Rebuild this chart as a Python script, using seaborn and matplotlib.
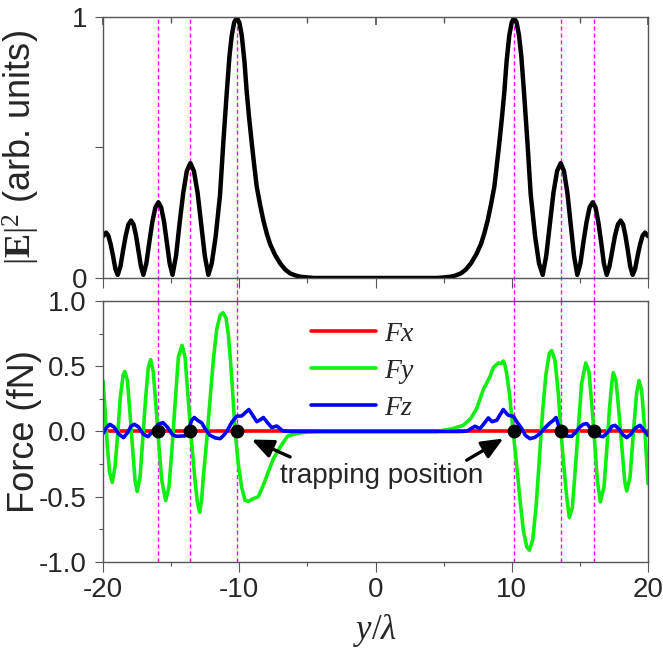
import numpy as np
import matplotlib
matplotlib.use('Agg')
import matplotlib.pyplot as plt
import seaborn as sns

sns.set_theme(style='ticks')
plt.rcParams['font.family'] = ['Liberation Sans', 'DejaVu Sans']
plt.rcParams['mathtext.fontset'] = 'custom'
plt.rcParams['mathtext.rm'] = 'Liberation Serif'
plt.rcParams['mathtext.it'] = 'Liberation Serif:italic'
plt.rcParams['mathtext.bf'] = 'Liberation Serif:bold'

# |E|^2 profile
e_x = [-20.0, -19.78, -19.61, -19.44, -19.26, -19.09, -18.92, -18.72, -18.53, -18.33, -18.14,
       -17.94, -17.76, -17.58, -17.4, -17.22, -17.04, -16.82, -16.6, -16.38, -16.16, -15.94,
       -15.73, -15.52, -15.32, -15.11, -14.9, -14.64, -14.38, -14.11, -13.85, -13.59, -13.33,
       -13.06, -12.8, -12.53, -12.27, -12.02, -11.73, -11.41, -11.17, -10.92, -10.72, -10.55,
       -10.37, -10.19, -10.0, -9.82, -9.62, -9.45, -9.27, -9.09, -8.9, -8.72, -8.47, -8.23,
       -7.98, -7.74, -7.37, -7.0, -6.64, -6.28, -5.9, -5.54, -5.0, -4.5,
       4.5, 5.0, 5.54, 5.9, 6.28, 6.64, 7.0, 7.37, 7.74, 7.98, 8.23, 8.47, 8.72, 8.9, 9.09,
       9.27, 9.45, 9.62, 9.82, 10.0, 10.17, 10.35, 10.53, 10.7, 10.9, 11.15, 11.39, 11.71,
       12.0, 12.27, 12.53, 12.8, 13.06, 13.33, 13.59, 13.83, 14.08, 14.32, 14.57, 14.81,
       15.04, 15.26, 15.49, 15.71, 15.94, 16.15, 16.35, 16.56, 16.76, 16.97, 17.17, 17.38,
       17.58, 17.79, 17.99, 18.17, 18.34, 18.52, 18.69, 18.87, 19.05, 19.23, 19.42, 19.6,
       19.78, 20.0]
e_y = [0.16, 0.174, 0.162, 0.129, 0.083, 0.034, 0.012, 0.045, 0.105, 0.163, 0.205,
       0.22, 0.205, 0.163, 0.105, 0.045, 0.012, 0.056, 0.138, 0.215, 0.27, 0.29,
       0.27, 0.215, 0.138, 0.056, 0.012, 0.085, 0.21, 0.327, 0.41, 0.44, 0.41,
       0.327, 0.21, 0.085, 0.012, 0.056, 0.16, 0.32, 0.52, 0.71, 0.85, 0.93,
       0.98, 0.995, 0.98, 0.93, 0.83, 0.71, 0.61, 0.52, 0.43, 0.35, 0.28, 0.22,
       0.17, 0.13, 0.088, 0.056, 0.033, 0.018, 0.01, 0.005, 0.002, 0.0,
       0.0, 0.002, 0.005, 0.01, 0.018, 0.033, 0.056, 0.088, 0.13, 0.17, 0.22, 0.28, 0.35, 0.43, 0.52,
       0.61, 0.71, 0.83, 0.93, 0.98, 0.995, 0.98, 0.93, 0.85, 0.71, 0.52, 0.32, 0.16,
       0.056, 0.012, 0.085, 0.21, 0.327, 0.41, 0.44, 0.41, 0.327, 0.21, 0.085, 0.012,
       0.056, 0.138, 0.215, 0.27, 0.29, 0.27, 0.215, 0.138, 0.056, 0.012, 0.045, 0.105,
       0.163, 0.205, 0.22, 0.205, 0.163, 0.105, 0.045, 0.012, 0.034, 0.083, 0.129, 0.162,
       0.174, 0.16]

# force components (fN)
fx_x = [-20.0, 20.0]
fx_y = [0.0, 0.0]

fy_x = [-20.0, -19.85, -19.68, -19.51, -19.32, -19.12, -18.92, -18.73, -18.53, -18.4,
        -18.21, -18.02, -17.82, -17.65, -17.5, -17.28, -17.09, -16.87, -16.68, -16.5,
        -16.31, -16.11, -15.89, -15.69, -15.4, -15.16, -14.91, -14.66, -14.47, -14.2,
        -13.98, -13.74, -13.49, -13.25, -13.08, -12.9, -12.76, -12.64, -12.39, -12.15,
        -11.9, -11.66, -11.41, -11.2, -10.97, -10.8, -10.65, -10.5, -10.38, -10.25,
        -10.07, -9.82, -9.58, -9.33, -8.97, -8.6, -8.23, -7.87, -7.5, -7.0, -6.47,
        -5.8, -5.05, -4.0, 4.5, 5.59, 6.44, 7.0, 7.42, 7.91, 8.4, 8.65, 9.01, 9.2, 9.38,
        9.52, 9.63, 9.83, 10.0, 10.17, 10.37, 10.61, 10.85, 11.1, 11.29, 11.54, 11.78,
        12.02, 12.27, 12.51, 12.76, 12.93, 13.17, 13.42, 13.59, 13.78, 14.03, 14.22,
        14.45, 14.64, 14.89, 15.13, 15.43, 15.67, 15.91, 16.11, 16.28, 16.5, 16.77,
        16.97, 17.16, 17.34, 17.45, 17.65, 17.9, 18.14, 18.3, 18.44, 18.68, 18.92,
        19.16, 19.34, 19.53, 19.78, 20.0]
fy_y = [0.39, 0.16, -0.12, -0.32, -0.39, -0.27, -0.016, 0.26, 0.43, 0.46,
        0.39, 0.137, -0.144, -0.374, -0.46, -0.35, -0.067, 0.26, 0.49, 0.55,
        0.455, 0.19, -0.12, -0.374, -0.53, -0.425, -0.093, 0.29, 0.57, 0.66,
        0.57, 0.24, -0.093, -0.374, -0.54, -0.62, -0.52, -0.35, -0.07, 0.24,
        0.55, 0.78, 0.89, 0.91, 0.87, 0.74, 0.55, 0.33, 0.12, -0.06,
        -0.25, -0.43, -0.527, -0.535, -0.515, -0.50, -0.41, -0.31, -0.21, -0.12, -0.037,
        -0.016, -0.004, 0.0, 0.0, 0.02, 0.047, 0.10, 0.175, 0.32, 0.42, 0.49, 0.525, 0.52, 0.54,
        0.50, 0.44, 0.29, 0.11, -0.067, -0.27, -0.527, -0.757, -0.885, -0.91, -0.83, -0.58,
        -0.22, 0.16, 0.44, 0.60, 0.62, 0.545, 0.29, 0.035, -0.22, -0.50, -0.66,
        -0.58, -0.32, 0.035, 0.37, 0.525, 0.455, 0.16, -0.12, -0.374, -0.54, -0.425,
        -0.144, 0.16, 0.37, 0.45, 0.39, 0.11, -0.195, -0.39, -0.456, -0.35, -0.016,
        0.29, 0.39, 0.316, -0.016, -0.40]

fz_x = [-20.0, -19.75, -19.5, -19.2, -18.85, -18.5, -18.2, -17.95, -17.7, -17.4, -17.05,
        -16.7, -16.35, -15.95, -15.6, -15.25, -14.9, -14.6, -13.99, -13.7, -13.5, -13.3,
        -13.05, -12.75, -12.5, -12.15, -11.75, -11.4, -11.15, -10.92, -10.55, -10.19, -9.82,
        -9.55, -9.3, -9.05, -8.72, -8.45, -8.23, -7.95, -7.62, -7.25, -6.8, -6.3,
        6.3, 6.74, 7.3, 7.67, 8.0, 8.28, 8.55, 8.9, 9.15, 9.38, 9.6, 9.75, 10.12, 10.4,
        10.73, 11.0, 11.34, 11.7, 12.07, 12.45, 12.8, 13.05, 13.25, 13.45, 13.66, 14.0,
        14.4, 14.7, 15.0, 15.25, 15.5, 15.75, 15.98, 16.3, 16.7, 17.1, 17.35, 17.58,
        17.85, 18.15, 18.44, 18.75, 19.05, 19.41, 19.7, 20.0]
fz_y = [-0.016, 0.03, 0.055, 0.035, -0.02, -0.047, -0.01, 0.04, 0.055, 0.035, -0.02,
        -0.04, 0.0, 0.055, 0.068, 0.03, -0.025, -0.037, -0.034, 0.02, 0.085, 0.107,
        0.085, 0.065, 0.02, -0.029, -0.05, -0.055, -0.03, 0.0, 0.07, 0.117, 0.119,
        0.145, 0.168, 0.13, 0.075, 0.09, 0.107, 0.07, 0.03, 0.042, 0.004, 0.0,
        0.0, 0.004, 0.04, 0.022, 0.065, 0.104, 0.075, 0.086, 0.13, 0.168, 0.14, 0.124, 0.116, 0.07,
        0.022, -0.03, -0.055, -0.045, -0.016, 0.03, 0.065, 0.085, 0.107, 0.04, -0.029, -0.035,
        -0.037, -0.005, 0.035, 0.055, 0.06, 0.03, -0.004, -0.03, -0.04, 0.0, 0.04, 0.047,
        0.02, -0.025, -0.047, -0.02, 0.025, 0.047, 0.01, -0.03]

trap_x = [-16.0, -13.6, -10.15, 10.17, 13.6, 16.0]
trap_y = [0.0, 0.0, 0.0, 0.0, 0.0, 0.0]

fig = plt.figure(figsize=(6.63, 6.53), dpi=100)
ax1 = fig.add_axes([0.1554, 0.5743, 0.822, 0.3997])
ax2 = fig.add_axes([0.1554, 0.1394, 0.822, 0.3997])

spine_col = '#555555'

# top panel
sns.lineplot(x=e_x, y=e_y, ax=ax1, color='black', lw=3.2, sort=False, estimator=None)
ax1.set_xlim(-20, 20)
ax1.set_ylim(0, 1)
ax1.set_yticks([0, 1])
ax1.set_yticklabels(['0', '1'])
ax1.set_yticks([0.5], minor=True)
ax1.set_xticks([-20, -10, 0, 10, 20])
ax1.set_xticks([-15, -5, 5, 15], minor=True)
ax1.tick_params(axis='x', which='both', labelbottom=False, direction='out')
ax1.tick_params(axis='x', which='major', length=7)
ax1.tick_params(axis='x', which='minor', length=3.5)
ax1.tick_params(axis='y', which='both', length=5.5, direction='out', labelsize=20, pad=6)
top = ax1.secondary_xaxis('top')
top.set_xticks([-20, -10, 0, 10, 20])
top.set_xticks([-15, -5, 5, 15], minor=True)
top.tick_params(axis='x', which='both', direction='in', labeltop=False, color=spine_col)
top.tick_params(axis='x', which='major', length=6)
top.tick_params(axis='x', which='minor', length=4.5)
top.spines['top'].set_visible(False)
ax1.set_ylabel(r'$|\mathbf{E}|^2$ (arb. units)', fontsize=26)
ax1.yaxis.set_label_coords(-0.112, 0.5)

# bottom panel
sns.lineplot(x=fx_x, y=fx_y, ax=ax2, color='#ff0000', lw=2.6, sort=False, estimator=None, label='Fx')
sns.lineplot(x=fy_x, y=fy_y, ax=ax2, color='#11ee11', lw=2.6, sort=False, estimator=None, label='Fy')
sns.lineplot(x=fz_x, y=fz_y, ax=ax2, color='#0000ff', lw=2.6, sort=False, estimator=None, label='Fz')
ax2.plot(trap_x, trap_y, 'o', color='black', ms=9, zorder=5)
ax2.set_xlim(-20, 20)
ax2.set_ylim(-1, 1)
ax2.set_yticks([-1.0, -0.5, 0.0, 0.5, 1.0])
ax2.set_yticklabels(['-1.0', '-0.5', '0.0', '0.5', '1.0'])
ax2.set_yticks([-0.75, -0.25, 0.25, 0.75], minor=True)
ax2.set_xticks([-20, -10, 0, 10, 20])
ax2.set_xticklabels(['-20', '-10', '0', '10', '20'])
ax2.set_xticks([-15, -5, 5, 15], minor=True)
ax2.tick_params(axis='x', which='major', length=7, labelsize=20, pad=3.5, direction='out')
ax2.tick_params(axis='x', which='minor', length=3, direction='out')
ax2.tick_params(axis='y', which='major', length=5.8, labelsize=20, pad=6, direction='out')
ax2.tick_params(axis='y', which='minor', length=3, direction='out')
ax2.set_ylabel('Force (fN)', fontsize=26)
ax2.yaxis.set_label_coords(-0.112, 0.5)
ax2.set_xlabel(r'$y/\lambda$', fontsize=25)
ax2.xaxis.label.set_va('center')
ax2.xaxis.set_label_coords(0.5, -0.262)

leg = ax2.legend(loc='upper left', bbox_to_anchor=(0.356, 0.975), frameon=False,
                 borderpad=0, handlelength=2.35, handletextpad=0.3, labelspacing=0.42,
                 prop={'family': 'Liberation Serif', 'style': 'italic', 'size': 20})

ax2.text(0.44, -0.397, 'trapping position', ha='center', va='baseline', fontsize=20)
arrow = dict(arrowstyle='-|>,head_length=0.65,head_width=0.28', color='black', lw=2.4,
             mutation_scale=20, shrinkA=0, shrinkB=0)
ax2.annotate('', xy=(-9.09, -0.062), xytext=(-6.27, -0.195), arrowprops=arrow)
ax2.annotate('', xy=(9.38, -0.054), xytext=(6.69, -0.22), arrowprops=arrow)

# dashed guides through both panels
for xv in trap_x:
    ax1.axvline(xv, ymin=-0.088, ymax=1, color='#ff00ff', lw=1.0, ls=(0, (3, 2)),
                clip_on=False, zorder=1)
    ax2.axvline(xv, color='#ff00ff', lw=1.0, ls=(0, (3, 2)), zorder=1)

for ax in (ax1, ax2):
    for s in ax.spines.values():
        s.set_color(spine_col)
        s.set_linewidth(1.0)
    ax.tick_params(which='both', color=spine_col, width=0.8)

fig.savefig('out.png', dpi=100)
